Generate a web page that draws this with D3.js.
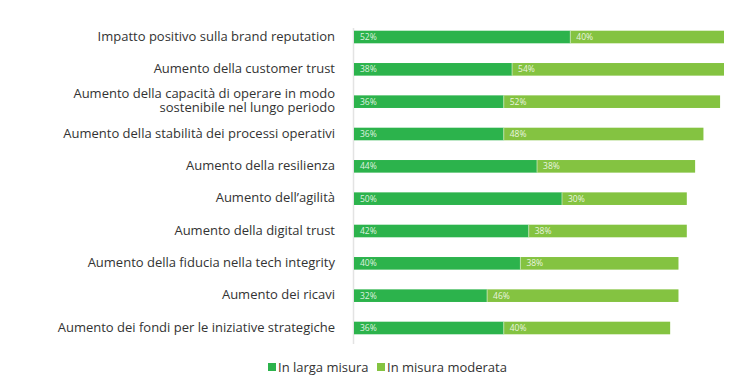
<!DOCTYPE html>
<html>
<head>
<meta charset="utf-8">
<script src="https://cdn.jsdelivr.net/npm/d3@7"></script>
<style>
  body { margin: 0; background: #fff; }
  text { font-family: "Open Sans", sans-serif; }
</style>
</head>
<body>
<div id="chart"></div>
<script>
// Data
var categories = [
  ["Impatto positivo sulla brand reputation"],
  ["Aumento della customer trust"],
  ["Aumento della capacità di operare in modo", "sostenibile nel lungo periodo"],
  ["Aumento della stabilità dei processi operativi"],
  ["Aumento della resilienza"],
  ["Aumento dell\u2019agilità"],
  ["Aumento della digital trust"],
  ["Aumento della fiducia nella tech integrity"],
  ["Aumento dei ricavi"],
  ["Aumento dei fondi per le iniziative strategiche"]
];
var largaMisura = [52, 38, 36, 36, 44, 50, 42, 40, 32, 36];
var misuraModerata = [40, 54, 52, 48, 38, 30, 38, 38, 46, 40];
var seriesNames = ["In larga misura", "In misura moderata"];
var colors = ["#2cb34c", "#84c341"];

var width = 738, height = 385;
var margin = { top: 21, left: 354, right: 14, bottom: 45 };

var svg = d3.select("#chart").append("svg")
    .attr("width", width)
    .attr("height", height);

// x scale: ~4.16 px per percent point; the plot area is cut at the right edge
var x = d3.scaleLinear().domain([0, 100]).range([margin.left, margin.left + 416]);
var y = d3.scaleBand()
    .domain(d3.range(categories.length))
    .range([margin.top, 344])
    .paddingInner(0.61)
    .paddingOuter(0.3);

svg.append("defs").append("clipPath").attr("id", "plotclip")
  .append("rect")
    .attr("x", margin.left).attr("y", 0)
    .attr("width", width - margin.right - margin.left)
    .attr("height", height);

// vertical axis line
svg.append("line")
    .attr("x1", margin.left - 0.5).attr("x2", margin.left - 0.5)
    .attr("y1", 28).attr("y2", 344)
    .attr("stroke", "#e3e3e3")
    .attr("stroke-width", 1.5);

var stacked = d3.stack().keys([0, 1])
    .value(function (d, k) { return k === 0 ? largaMisura[d] : misuraModerata[d]; })(d3.range(categories.length));

var plot = svg.append("g").attr("clip-path", "url(#plotclip)");

var groups = plot.selectAll("g.series")
    .data(stacked)
    .enter().append("g")
    .attr("class", "series")
    .attr("fill", function (d, i) { return colors[i]; });

groups.selectAll("rect")
    .data(function (d) { return d; })
    .enter().append("rect")
    .attr("x", function (d) { return x(d[0]); })
    .attr("y", function (d) { return y(d.data); })
    .attr("width", function (d) { return x(d[1]) - x(d[0]); })
    .attr("height", y.bandwidth());

// separators between segments
plot.selectAll("line.sep")
    .data(d3.range(categories.length))
    .enter().append("line")
    .attr("x1", function (i) { return x(largaMisura[i]); })
    .attr("x2", function (i) { return x(largaMisura[i]); })
    .attr("y1", function (i) { return y(i); })
    .attr("y2", function (i) { return y(i) + y.bandwidth(); })
    .attr("stroke", "#c8e6b8")
    .attr("stroke-width", 0.8);

// value labels inside bars
groups.selectAll("text")
    .data(function (d, i) { return d.map(function (p) { return { p: p, s: i }; }); })
    .enter().append("text")
    .attr("x", function (d) { return x(d.p[0]) + 6; })
    .attr("y", function (d) { return y(d.p.data) + y.bandwidth() / 2; })
    .attr("dy", "0.35em")
    .attr("fill", "#ffffff")
    .attr("fill-opacity", 0.85)
    .style("font-size", "8.5px")
    .text(function (d) {
      var v = d.s === 0 ? largaMisura[d.p.data] : misuraModerata[d.p.data];
      return v + "%";
    });

// category labels
var labels = svg.selectAll("text.cat")
    .data(categories)
    .enter().append("text")
    .attr("class", "cat")
    .attr("text-anchor", "end")
    .attr("fill", "#333")
    .style("font-size", "13px")
    .attr("transform", function (d, i) {
      return "translate(335," + (y(i) + y.bandwidth() / 2) + ")";
    });

labels.each(function (lines) {
  var t = d3.select(this);
  var n = lines.length;
  lines.forEach(function (line, j) {
    t.append("tspan")
      .attr("x", 0)
      .attr("y", (j - (n - 1) / 2) * 13.5 - 1)
      .attr("dy", "0.35em")
      .text(line);
  });
});

// legend
var legend = svg.append("g").attr("transform", "translate(268,367)");
var lx = [0, 109];
seriesNames.forEach(function (name, i) {
  var g = legend.append("g").attr("transform", "translate(" + lx[i] + ",0)");
  g.append("rect")
    .attr("x", 0).attr("y", -4)
    .attr("width", 8).attr("height", 8)
    .attr("fill", colors[i]);
  g.append("text")
    .attr("x", 10).attr("y", 0)
    .attr("dy", "0.35em")
    .attr("fill", "#333")
    .style("font-size", "13px")
    .text(name);
});
</script>
</body>
</html>
